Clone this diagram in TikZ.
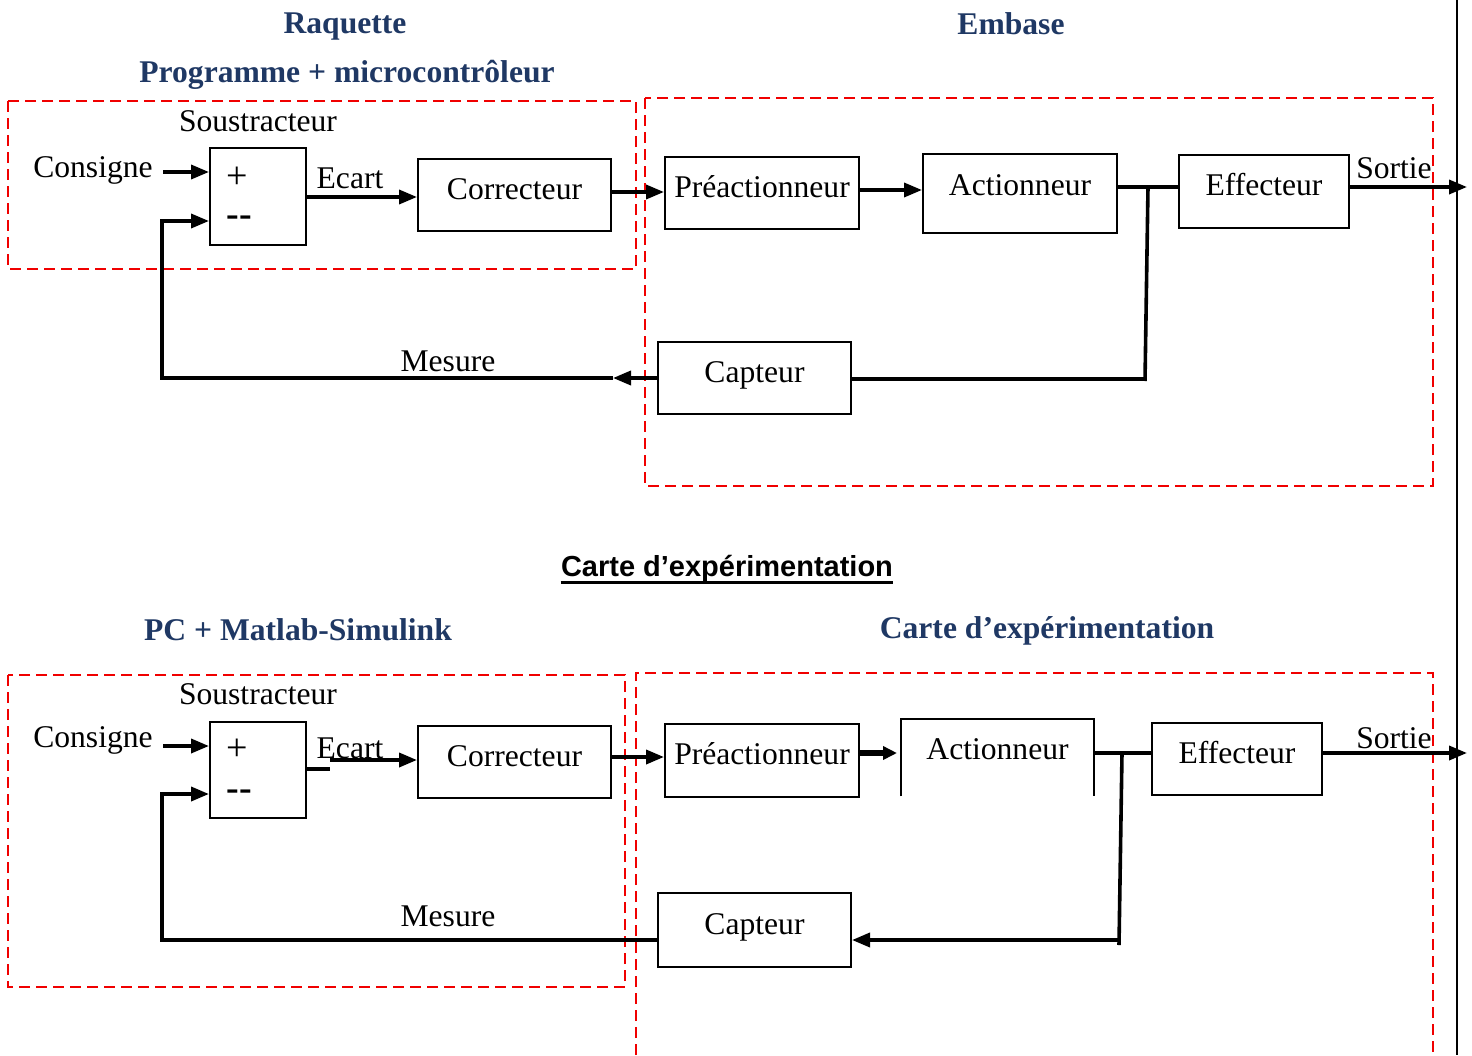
\documentclass[tikz,border=0pt]{standalone}
\usepackage{fontspec}
\setmainfont{Liberation Serif}
\newfontfamily\headsans{Liberation Sans}
\usetikzlibrary{arrows.meta}
\definecolor{titleblue}{RGB}{31,56,100}
\definecolor{framered}{RGB}{240,0,0}
\newcommand\mainsz{\fontsize{15.8pt}{19pt}\selectfont}
\begin{document}
\begin{tikzpicture}[x=0.5pt,y=-0.5pt,
  every node/.style={font=\mainsz, inner sep=0pt},
  blk/.style={draw, line width=1pt, text height=11pt, text depth=7pt},
  conn/.style={line width=1.8pt},
  arr/.style={line width=1.8pt, -{Triangle[length=9pt,width=7pt]}},
  frame/.style={draw=framered, line width=1.4pt, dash pattern=on 5.5pt off 3pt},
  sgn/.style={font=\fontsize{19pt}{22pt}\selectfont, text height=0.5em, text depth=0pt},
  ttl/.style={font=\mainsz\bfseries, text=titleblue}]
\useasboundingbox (0,0) rectangle (1472,1055);

% right black line
\draw[line width=1.25pt] (1457,0) -- (1457,1055);

% ---------- titles ----------
\node[ttl] (t1) at (345,27) {Raquette};
\node[ttl] (t2) at (1011,24) {Embase};
\node[ttl] (t3) at (347,75) {Programme + microcontrôleur};
\node[ttl] (t4) at (298,630) {PC + Matlab-Simulink};
\node[ttl] (t5) at (1047,631) {Carte d’expérimentation};
\node[font=\headsans\bfseries\fontsize{14.5pt}{17pt}\selectfont, anchor=base] (hd) at (727,576) {Carte d’expérimentation};
\draw[line width=1.5pt] ([yshift=-3pt]hd.base west) -- ([yshift=-3pt]hd.base east);

% ---------- red frames ----------
\draw[frame] (8,101) rectangle (636,269);
\draw[frame] (645,98) rectangle (1433,486);
\draw[frame] (8,675) rectangle (625,987);
\draw[frame] (636,1055) -- (636,673) -- (1433,673) -- (1433,1055);

% ---------- top diagram ----------
\node[draw, line width=1pt, minimum width=48pt, minimum height=48.5pt] (sum1) at (258,196.5) {};
\node[sgn] (plus1) at (237,183) {+};
\node[sgn] (minus1) at (239,221) {\textbf{-{}-}};
\node[blk, minimum width=96.5pt, minimum height=36pt] (corr1) at (514.5,195) {Correcteur};
\node[blk, minimum width=97pt, minimum height=36pt] (pre1) at (762,193) {Préactionneur};
\node[blk, text depth=9.5pt, minimum width=97pt, minimum height=39.5pt] (act1) at (1020,193.5) {Actionneur};
\node[blk, minimum width=85pt, minimum height=36.5pt] (eff1) at (1264,191.5) {Effecteur};
\node[blk, minimum width=96.5pt, minimum height=36pt] (cap1) at (754.5,378) {Capteur};

\node (sous1) at (258,121) {Soustracteur};
\node (cons1t) at (93,170) {Consigne};
\node (ec1) at (350,178) {Ecart};
\node (so1) at (1394,168) {Sortie};
\node (me1) at (448,361) {Mesure};

\coordinate (cons1) at (163,172);
\draw[arr] (cons1) -- (sum1.west |- cons1);
\coordinate (e1) at (306,197);
\draw[arr] (sum1.east |- e1) -- (corr1.west |- e1);
\coordinate (cp1) at (0,192);
\draw[arr] (corr1.east |- cp1) -- (pre1.west |- cp1);
\coordinate (pa1) at (0,190);
\draw[arr] (pre1.east |- pa1) -- (act1.west |- pa1);
\coordinate (ae1) at (0,187);
\draw[conn] (act1.east |- ae1) -- (eff1.west |- ae1);
\coordinate (out1) at (1467,187);
\draw[arr] (eff1.east |- out1) -- (out1);
\coordinate (br1a) at (1148,187);
\coordinate (cr1) at (1145,379);
\draw[conn] (br1a) -- (1145,381);
\draw[conn] (cr1) -- (cap1.east |- cr1);
\coordinate (mh1) at (613,378);
\draw[arr] (cap1.west |- mh1) -- (mh1);
\coordinate (fb1) at (162,378);
\coordinate (fbin1) at (162,221);
\draw[arr] (mh1) -- (fb1) -- (fbin1) -- (sum1.west |- fbin1);

% ---------- bottom diagram ----------
\node[draw, line width=1pt, minimum width=48pt, minimum height=48pt] (sum2) at (258,770) {};
\node[sgn] (plus2) at (237,755) {+};
\node[sgn] (minus2) at (239,795) {\textbf{-{}-}};
\node[blk, minimum width=96.5pt, minimum height=36pt] (corr2) at (514.5,762) {Correcteur};
\node[blk, minimum width=97pt, minimum height=36.5pt] (pre2) at (762,760.5) {Préactionneur};
\node[text height=11pt, text depth=9pt, minimum width=96.5pt, minimum height=38.5pt] (act2) at (997.5,757.5) {Actionneur};
\draw[line width=1pt] (act2.south west) -- (act2.north west) -- (act2.north east) -- (act2.south east);
\node[blk, minimum width=85pt, minimum height=36pt] (eff2) at (1237,759) {Effecteur};
\node[blk, minimum width=96.5pt, minimum height=37pt] (cap2) at (754.5,930) {Capteur};

\node (sous2) at (258,694) {Soustracteur};
\node (cons2t) at (93,740) {Consigne};
\node (ec2) at (350,748) {Ecart};
\node (so2) at (1394,738) {Sortie};
\node (me2) at (448,916) {Mesure};

\coordinate (cons2) at (163,746);
\draw[arr] (cons2) -- (sum2.west |- cons2);
\coordinate (st2) at (330,769);
\draw[conn] (sum2.east |- st2) -- (st2);
\coordinate (e2) at (330,760);
\draw[arr] (e2) -- (corr2.west |- e2);
\coordinate (cp2) at (0,757);
\draw[arr] (corr2.east |- cp2) -- (pre2.west |- cp2);
\coordinate (pa2) at (897,753);
\draw[line width=2.8pt, -{Triangle[length=7pt,width=6.5pt]}] (pre2.east |- pa2) -- (pa2);
\coordinate (ae2) at (0,753);
\draw[conn] (act2.east |- ae2) -- (eff2.west |- ae2);
\coordinate (out2) at (1467,753);
\draw[arr] (eff2.east |- out2) -- (out2);
\coordinate (br2a) at (1122,753);
\coordinate (cr2) at (1119,940);
\draw[conn] (br2a) -- (1119,945);
\draw[arr] (cr2) -- (cap2.east |- cr2);
\coordinate (fb2) at (162,940);
\coordinate (fbin2) at (162,794);
\draw[arr] (cap2.west |- fb2) -- (fb2) -- (fbin2) -- (sum2.west |- fbin2);
\end{tikzpicture}
\end{document}
